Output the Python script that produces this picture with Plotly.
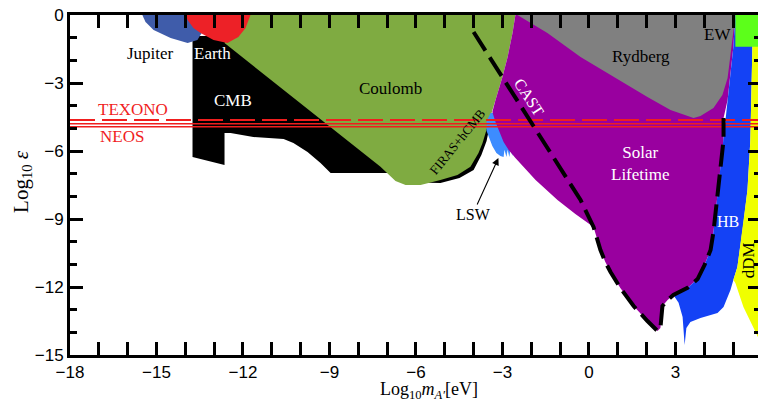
import plotly.graph_objects as go

# ---- data: region outlines in (log10 m_A' [eV], log10 eps) ----
jupiter_x = [-15.49, -15.38, -15.10, -14.51, -13.92, -13.58, -13.37, -13.30]
jupiter_y = [0.00, -0.31, -0.66, -1.01, -1.24, -1.10, -0.66, 0.00]

earth_x = [-13.99, -13.92, -13.72, -13.47, -13.02, -12.54, -12.16, -11.91, -11.74]
earth_y = [0.00, -0.22, -0.57, -0.79, -1.10, -1.24, -0.97, -0.57, 0.00]

cmb_x = [-13.75, -12.43, -3.45, -3.55, -3.73, -4.00, -4.49, -5.15, -5.60, -6.54, -6.88,
         -8.96, -9.31, -9.76, -10.25, -10.59, -11.64, -12.43, -12.64, -12.64, -13.75]
cmb_y = [-0.93, -0.93, -4.94, -5.56, -6.18, -6.84, -7.19, -7.41, -7.40, -7.10, -6.97,
         -6.97, -6.53, -6.04, -5.65, -5.47, -5.38, -5.21, -5.21, -6.62, -6.26]

coulomb_x = [-12.22, -2.55, -2.65, -2.82, -3.00, -3.24, -3.41, -3.52, -3.59, -3.69, -3.83,
             -4.11, -4.56, -5.15, -5.84, -6.36, -6.71, -7.02, -7.23, -12.64]
coulomb_y = [0.00, 0.00, -0.79, -1.85, -2.73, -3.75, -4.41, -4.94, -5.21, -5.65, -6.09,
             -6.70, -7.06, -7.28, -7.50, -7.50, -7.32, -6.97, -6.70, -1.24]

lsw_x = [-3.41, -3.07, -2.65, -2.65, -2.72, -2.76, -2.82, -2.86, -2.93, -2.96, -3.07,
         -3.21, -3.35, -3.45, -3.55, -3.55]
lsw_y = [-4.32, -4.32, -5.95, -6.22, -5.95, -6.26, -5.95, -6.26, -5.95, -6.26, -6.22,
         -6.09, -5.78, -5.47, -5.12, -4.68]

cast_x = [-4.00, -0.29, 0.16, 0.30, 0.40, 0.57, 0.75, 1.09, 1.55, 2.03, 2.38, 2.48, 2.52,
          2.55, 2.73, 2.93, 3.42, 3.77, 4.01, 4.22, 4.32, 4.43, 4.53, 4.60, 4.67, 4.67]
cast_y = [-0.75, -8.16, -9.35, -9.93, -10.37, -10.90, -11.34, -12.04, -12.84, -13.50, -13.94,
          -13.81, -13.23, -12.84, -12.57, -12.35, -12.04, -11.65, -11.03, -10.37, -9.57,
          -8.38, -7.28, -6.40, -5.51, -4.54]

solar_edge_x = [4.81, 5.01, 5.08, -2.55, -2.65, -2.82, -3.00, -3.24, -3.35, -3.24, -3.10,
                -2.96, -2.79, -2.55, -1.85, -1.09, -0.47]
solar_edge_y = [-3.75, -1.41, 0.00, 0.00, -0.79, -1.85, -2.73, -3.75, -4.28, -4.72, -5.16,
                -5.60, -5.95, -6.31, -7.28, -8.16, -8.78]

rydberg_x = [-2.48, -1.44, -0.29, 0.85, 2.03, 2.83, 3.63, 3.87, 4.32, 4.63, 4.81, 4.91, 5.01, 5.08]
rydberg_y = [0.00, -0.79, -1.85, -2.73, -3.62, -4.19, -4.54, -4.46, -4.10, -3.53, -2.78, -1.76, -0.66, 0.00]

hb_x = [5.71, 5.08, 5.01, 4.81, 4.67, 4.60, 4.53, 4.43, 4.32, 4.22, 4.01, 3.77, 3.42, 2.93,
        3.11, 3.25, 3.28, 3.32, 3.38, 3.52, 3.87, 4.46, 4.67, 4.91, 5.01, 5.15, 5.36, 5.50, 5.60, 5.67]
hb_y = [0.00, 0.00, -1.41, -3.75, -5.51, -6.40, -7.28, -8.38, -9.57, -10.37, -11.03, -11.65,
        -12.04, -12.35, -12.70, -13.32, -13.89, -14.56, -13.81, -13.54, -13.37, -13.15, -12.88,
        -12.13, -11.69, -11.12, -9.18, -7.72, -5.51, -1.41]

ddm_x = [5.67, 6.5, 6.5, 6.0, 5.78, 5.36, 5.08, 5.01, 5.15, 5.36, 5.50, 5.60, 5.67]
ddm_y = [0.00, 0.00, -14.9, -14.6, -13.98, -12.88, -11.82, -11.69, -11.12, -9.18, -7.72, -5.51, -1.41]

ew_x = [5.08, 6.5, 6.5, 5.08]
ew_y = [0.00, 0.00, -1.40, -1.40]

line_x = [-18, 6]
texono_eps = -4.63
neos_eps = [-4.80, -4.93]

x_range = [-18, 5.865]
y_range = [-15, 0]

RED = "#f01e1e"
SERIF = "Liberation Serif"

fig = go.Figure()


def region(x, y, color, name):
    fig.add_trace(go.Scatter(x=x, y=y, mode="lines", fill="toself", fillcolor=color,
                             line=dict(width=0, color=color), name=name,
                             hoverinfo="skip", showlegend=False))


region(cmb_x, cmb_y, "#000000", "CMB")
region(coulomb_x, coulomb_y, "#7fab41", "Coulomb")
region(jupiter_x, jupiter_y, "#3f5caa", "Jupiter")
region(earth_x, earth_y, "#ed2127", "Earth")
region(lsw_x, lsw_y, "#3d8cff", "LSW")
region(cast_x[2:] + solar_edge_x, cast_y[2:] + solar_edge_y, "#99009f", "Solar Lifetime")
region(rydberg_x, rydberg_y, "#808080", "Rydberg")
region(hb_x, hb_y, "#1442f5", "HB")
region(ddm_x, ddm_y, "#f0ff00", "dDM")
region(ew_x, ew_y, "#5cff1a", "EW")

fig.add_trace(go.Scatter(x=line_x, y=[texono_eps] * 2, mode="lines",
                         line=dict(color=RED, width=2, dash="25px,7px"),
                         hoverinfo="skip", showlegend=False, name="TEXONO"))
for e in neos_eps:
    fig.add_trace(go.Scatter(x=line_x, y=[e] * 2, mode="lines",
                             line=dict(color=RED, width=1.5),
                             hoverinfo="skip", showlegend=False, name="NEOS"))

fig.add_trace(go.Scatter(x=cast_x, y=cast_y, mode="lines",
                         line=dict(color="black", width=4, dash="22px,8px"),
                         hoverinfo="skip", showlegend=False, name="CAST"))

# invisible trace to hold the right-hand tick axis
fig.add_trace(go.Scatter(x=[], y=[], yaxis="y2", showlegend=False))

labels = [
    ("Jupiter", -15.21, -1.68, "black", 17, 0),
    ("Earth", -13.06, -1.68, "white", 17, 0),
    ("CMB", -12.36, -3.75, "white", 17, 0),
    ("Coulomb", -6.88, -3.26, "black", 17, 0),
    ("TEXONO", -15.80, -4.15, RED, 17, 0),
    ("NEOS", -16.21, -5.38, RED, 17, 0),
    ("Rydberg", 1.82, -1.85, "black", 17, 0),
    ("EW", 4.46, -0.88, "black", 17, 0),
    ("CAST", -2.06, -3.62, "white", 16, 57),
    ("FIRAS+hCMB", -4.56, -5.56, "black", 13, -51),
    ("Solar<br>Lifetime", 1.79, -6.53, "white", 17, 0),
    ("LSW", -4.00, -8.78, "black", 16, 0),
    ("HB", 4.81, -9.13, "white", 16, 0),
    ("dDM", 5.53, -10.81, "black", 17, -90),
]
annotations = []
for text, x, y, col, size, ang in labels:
    annotations.append(dict(text=text, x=x, y=y, xref="x", yref="y", showarrow=False,
                            textangle=ang, font=dict(family=SERIF, size=size, color=col),
                            xanchor="center", yanchor="middle"))

annotations.append(dict(text="", x=-3.14, y=-6.31, ax=-3.90, ay=-8.43, xref="x", yref="y",
                        axref="x", ayref="y", showarrow=True, arrowhead=2, arrowsize=1.3,
                        arrowwidth=1.1, arrowcolor="black"))

annotations.append(dict(text="Log<sub>10</sub> <i>ε</i>", xref="paper", yref="paper",
                        x=-0.0698, y=0.512, textangle=-90, showarrow=False,
                        font=dict(family=SERIF, size=21, color="black"),
                        xanchor="center", yanchor="middle"))
annotations.append(dict(text="Log<sub>10</sub><i>m</i><sub><i>A′</i></sub>[eV]",
                        xref="paper", yref="paper", x=0.522, y=-0.103, showarrow=False,
                        font=dict(family=SERIF, size=18, color="black"),
                        xanchor="center", yanchor="middle"))

tickfont = dict(family="Liberation Sans", size=17, color="black")
common = dict(showgrid=False, zeroline=False, ticks="inside", ticklen=13, tickwidth=3,
              tickcolor="black", dtick=3, tick0=0, tickfont=tickfont, automargin=False,
              ticklabeloverflow="allow",
              minor=dict(dtick=1, ticks="inside", ticklen=7, tickwidth=3, tickcolor="black"))

fig.update_layout(
    width=758, height=409,
    margin=dict(l=70, r=0, t=15, b=54, autoexpand=False),
    paper_bgcolor="white", plot_bgcolor="white",
    xaxis=dict(range=x_range, showline=True, linewidth=3, linecolor="black",
               mirror="allticks", **common),
    yaxis=dict(range=y_range, showline=True, linewidth=3, linecolor="black",
               mirror=False, **common),
    yaxis2=dict(range=y_range, overlaying="y", side="right", anchor="x", showline=False,
                showgrid=False, zeroline=False, ticks="inside", ticklen=10, tickwidth=3,
                tickcolor="black", dtick=3, tick0=0, showticklabels=False, automargin=False,
                minor=dict(dtick=1, ticks="inside", ticklen=4, tickwidth=3, tickcolor="black")),
    annotations=annotations,
    showlegend=False,
)

# remove the browser's default 8px page margin so the 758x409 figure fills the window exactly
fig.write_html("out.html",
               config={"displayModeBar": False},
               post_script="document.body.style.margin='0';"
                           "document.documentElement.style.overflow='hidden';")
